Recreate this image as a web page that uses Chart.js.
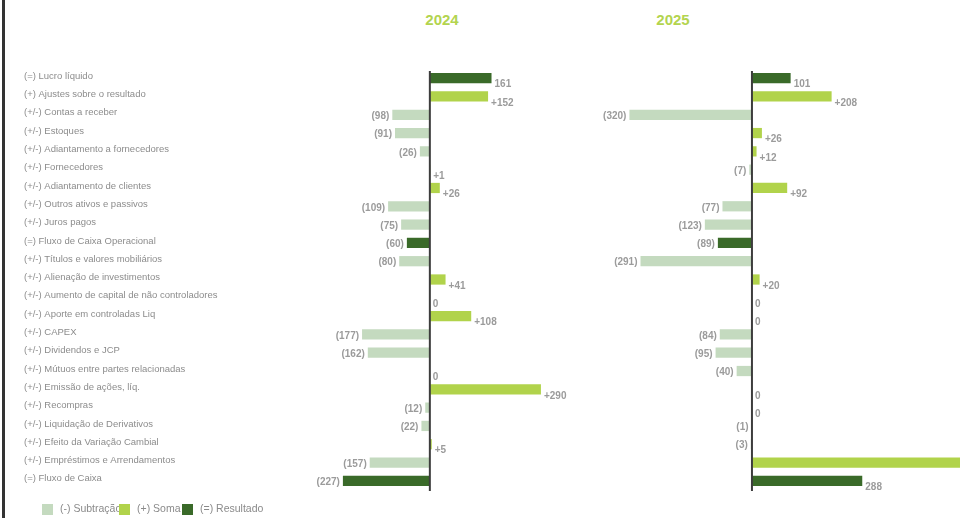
<!DOCTYPE html>
<html>
<head>
<meta charset="utf-8">
<script src="https://cdn.jsdelivr.net/npm/chart.js@4/dist/chart.umd.min.js"></script>
<style>
    html, body { margin: 0; padding: 0; width: 960px; height: 518px; overflow: hidden; background: #fff; }
    #frame { position: absolute; left: 2px; top: 0; width: 3px; height: 518px; background: #333; }
    .year { position: absolute; top: 11px; width: 80px; text-align: center; font: bold 15px "Liberation Sans", Arial, sans-serif; color: #b3d44f; }
    #chart2024 { position: absolute; left: 0; top: 0; }
    #chart2025 { position: absolute; left: 580px; top: 0; }
</style>
</head>
<body>
<div id="frame"></div>
<div class="year" style="left:402px">2024</div>
<div class="year" style="left:633px">2025</div>
<canvas id="chart2024" width="580" height="518"></canvas>
<canvas id="chart2025" width="540" height="518"></canvas>
<script>
const categories = [
    '(=) Lucro líquido',
    '(+) Ajustes sobre o resultado',
    '(+/-) Contas a receber',
    '(+/-) Estoques',
    '(+/-) Adiantamento a fornecedores',
    '(+/-) Fornecedores',
    '(+/-) Adiantamento de clientes',
    '(+/-) Outros ativos e passivos',
    '(+/-) Juros pagos',
    '(=) Fluxo de Caixa Operacional',
    '(+/-) Títulos e valores mobiliários',
    '(+/-) Alienação de investimentos',
    '(+/-) Aumento de capital de não controladores',
    '(+/-) Aporte em controladas Liq',
    '(+/-) CAPEX',
    '(+/-) Dividendos e JCP',
    '(+/-) Mútuos entre partes relacionadas',
    '(+/-) Emissão de ações, líq.',
    '(+/-) Recompras',
    '(+/-) Liquidação de Derivativos',
    '(+/-) Efeito da Variação Cambial',
    '(+/-) Empréstimos e Arrendamentos',
    '(=) Fluxo de Caixa'
];

const values2024 = [161, 152, -98, -91, -26, 1, 26, -109, -75, -60, -80, 41, 0, 108, -177, -162, 0, 290, -12, -22, 5, -157, -227];
const values2025 = [101, 208, -320, 26, 12, -7, 92, -77, -123, -89, -291, 20, 0, 0, -84, -95, -40, 0, 0, -1, -3, 871, 288];

// rows that are totals (=)
const resultRows = [0, 9, 22];

const legendLabels = ['(-) Subtração', '(+) Soma', '(=) Resultado'];
const COLOR_SUB = '#c4dabf';
const COLOR_SUM = '#b1d34b';
const COLOR_RES = '#3a6a29';
const legendColors = [COLOR_SUB, COLOR_SUM, COLOR_RES];

const FONT = '"Liberation Sans", Arial, sans-serif';
Chart.defaults.font.family = FONT;

function barColor(v, i) {
    if (resultRows.includes(i)) return COLOR_RES;
    return v < 0 ? COLOR_SUB : COLOR_SUM;
}

function fmtValue(v, isResult) {
    if (v < 0) return '(' + (-v) + ')';
    if (isResult || v === 0) return String(v);
    return '+' + v;
}

const valueLabels = {
    id: 'valueLabels',
    afterDatasetsDraw(chart) {
        const ctx = chart.ctx;
        const meta = chart.getDatasetMeta(0);
        const data = chart.data.datasets[0].data;
        const area = chart.chartArea;
        ctx.save();
        // zero axis
        const x0 = chart.scales.x.getPixelForValue(0);
        ctx.strokeStyle = '#3d3d3d';
        ctx.lineWidth = 2;
        ctx.beginPath();
        ctx.moveTo(x0, area.top + 2);
        ctx.lineTo(x0, area.bottom + 1);
        ctx.stroke();

        ctx.font = 'bold 10px ' + FONT;
        ctx.fillStyle = '#9b9b9b';
        ctx.textBaseline = 'middle';
        meta.data.forEach((bar, i) => {
            const v = data[i];
            const txt = fmtValue(v, resultRows.includes(i));
            if (v < 0) {
                ctx.textAlign = 'right';
                ctx.fillText(txt, bar.x - 3, bar.y + 1.5);
            } else {
                ctx.textAlign = 'left';
                ctx.fillText(txt, bar.x + 3, bar.y + 6.5);
            }
        });
        ctx.restore();
    }
};

const legendX = [42, 119, 182];
const bottomLegend = {
    id: 'bottomLegend',
    afterDraw(chart) {
        const ctx = chart.ctx;
        ctx.save();
        ctx.font = '10.5px ' + FONT;
        ctx.fillStyle = '#8a8a8a';
        ctx.textBaseline = 'middle';
        ctx.textAlign = 'left';
        legendLabels.forEach((t, i) => ctx.fillText(t, legendX[i] + 18, 509.5));
        legendLabels.forEach((t, i) => {
            ctx.fillStyle = legendColors[i];
            ctx.fillRect(legendX[i], 504, 11, 11);
        });
        ctx.restore();
    }
};

function makeChart(id, values, xmin, xmax, withLabels) {
    return new Chart(document.getElementById(id), {
        type: 'bar',
        data: {
            labels: categories,
            datasets: [{
                data: values,
                backgroundColor: values.map((v, i) => barColor(v, i)),
                borderWidth: 0,
                barPercentage: 0.56,
                categoryPercentage: 1
            }]
        },
        options: {
            indexAxis: 'y',
            responsive: false,
            animation: false,
            layout: { padding: { left: withLabels ? 24 : 0, right: 0, top: 69, bottom: 28 } },
            scales: {
                x: { display: false, min: xmin, max: xmax },
                y: {
                    display: withLabels,
                    grid: { display: false },
                    border: { display: false },
                    ticks: {
                        autoSkip: false,
                        crossAlign: 'far',
                        labelOffset: -2,
                        padding: 0,
                        color: '#8c8c8c',
                        font: { size: 9.5 }
                    },
                    afterFit(axis) { axis.width = withLabels ? 276 : 0; }
                }
            },
            plugins: {
                legend: { display: false },
                tooltip: { enabled: false }
            }
        },
        plugins: withLabels ? [valueLabels, bottomLegend] : [valueLabels]
    });
}

makeChart('chart2024', values2024, -339, 392, true);
makeChart('chart2025', values2025, -449, 961, false);
</script>
</body>
</html>
